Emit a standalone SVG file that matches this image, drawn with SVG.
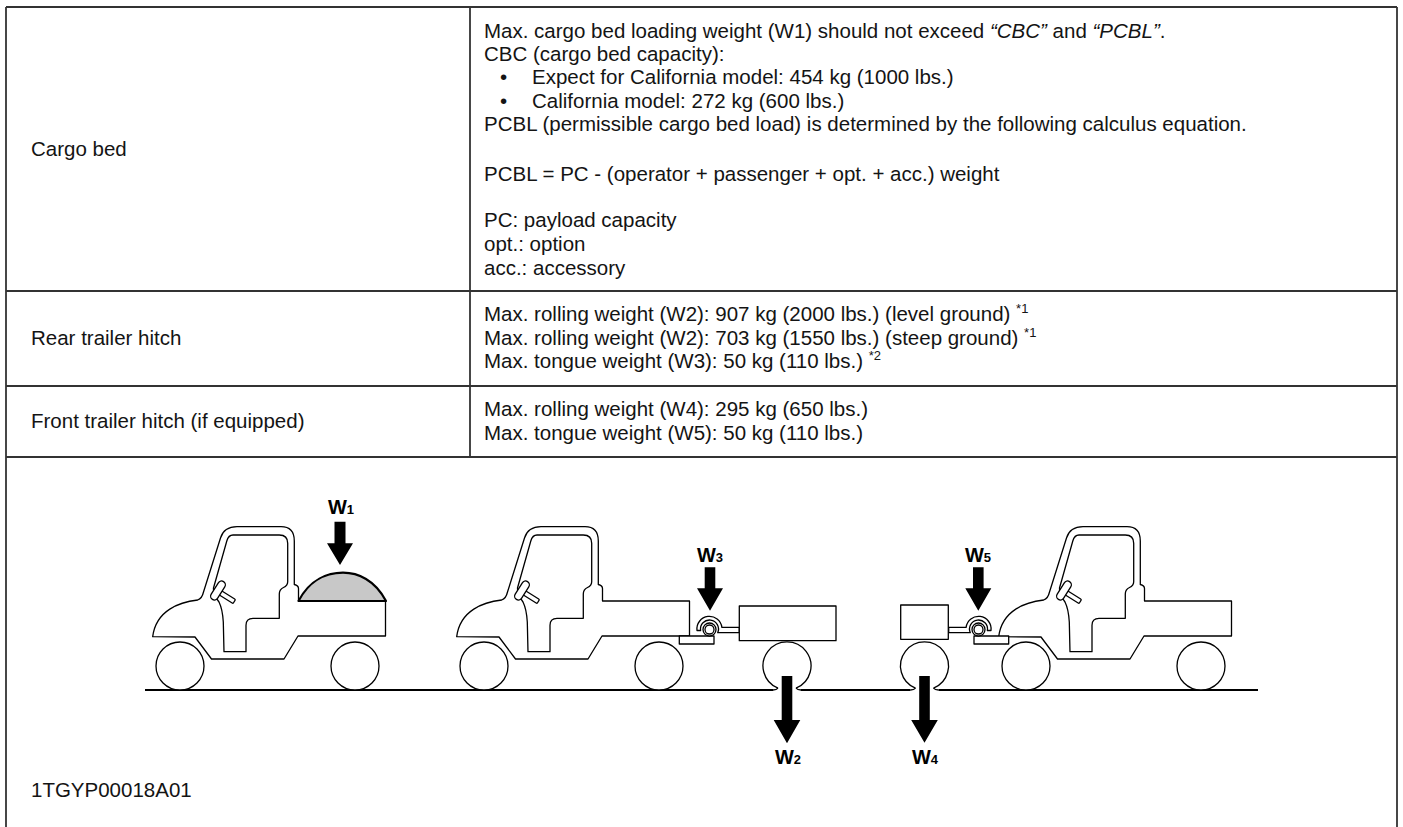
<svg xmlns="http://www.w3.org/2000/svg" xmlns:xlink="http://www.w3.org/1999/xlink" width="1403" height="827" viewBox="0 0 1403 827">
<style>
.t{font-family:"Liberation Sans",Arial,sans-serif;font-size:20.5px;fill:#141414}
.grid{stroke:#333;stroke-width:1.8;fill:none}
.ln{fill:#fff;stroke:#000;stroke-width:1.3;stroke-linejoin:round}
.no{fill:none;stroke:#000;stroke-width:1.3;stroke-linejoin:round}
.gnd{fill:none;stroke:#000;stroke-width:2}
.arw{fill:#000}
.wl{font-family:"Liberation Sans",Arial,sans-serif;font-weight:bold;font-size:20px;fill:#000}
.sub{font-size:13px}
.sup{font-size:13px}
</style>
<defs>
<g id="utv">
<path class="ln" d="M152.7,636.7 L195,637 L211.5,659 L284,659 L298,636 L385.5,636 L385.5,601 L298.5,601 L298.5,588.5 Q298.5,585.5 294.3,584.5 L294.3,541 Q294.3,526.7 281,526.7 L237,526.7 Q224,526.7 220.5,538 L203.5,592 Q202,598.5 197.7,600 C180,602 156,610 152.7,636.7 Z"/>
<path class="no" d="M233,535 L279.3,535 Q287.7,535 287.7,543.3 L287.7,581.7 Q287.7,585.5 283.5,587.5 Q279.3,589.5 279.3,594 L279.3,618.3 L253,618.3 Q246,618.3 246,625.3 L246,651.7 L224,651.7 L223.3,622 Q222.5,609 219,602 Q213,594 213.5,588 L226.8,541 Q228.5,535 233,535 Z"/>
<rect class="ln" x="0" y="-2.4" width="18" height="4.8" rx="1" transform="translate(219,592) rotate(32)"/>
<rect class="ln" x="-3.8" y="-10.5" width="7.6" height="21" rx="3.8" transform="translate(218,590.5) rotate(32)"/>
<circle class="ln" cx="180" cy="666" r="24"/>
<circle class="ln" cx="355" cy="666" r="24"/>
</g>
<g id="hitch">
<rect class="ln" x="679.3" y="636" width="34.7" height="8"/>
<path class="ln" d="M697,630.5 A12.5,12.5 0 0 1 721.9,627.3 L739.3,627.3 L739.3,632.7 L717.7,632.7 A9,9 0 1 0 700.6,630.5 Z"/>
<circle class="ln" cx="709.5" cy="629.5" r="6.5"/>
<circle class="no" cx="709.5" cy="629.5" r="4.5"/>
</g>
</defs>

<g id="table">
<path class="grid" d="M6,7 H1397 M6,7 V827 M1397,7 V827 M470,7 V457 M6,291 H1397 M6,386 H1397 M6,457 H1397"/>
</g>

<g id="row-cargo-bed">
<text class="t" x="31" y="156">Cargo bed</text>
<text class="t" x="484" y="37.7">Max. cargo bed loading weight (W1) should not exceed <tspan font-style="italic">“CBC”</tspan> and <tspan font-style="italic">“PCBL”</tspan>.</text>
<text class="t" x="484" y="61">CBC (cargo bed capacity):</text>
<text class="t" x="500" y="84.3">•</text>
<text class="t" x="532" y="84.3">Expect for California model: 454 kg (1000 lbs.)</text>
<text class="t" x="500" y="107.6">•</text>
<text class="t" x="532" y="107.6">California model: 272 kg (600 lbs.)</text>
<text class="t" x="484" y="131">PCBL (permissible cargo bed load) is determined by the following calculus equation.</text>
<text class="t" x="484" y="181">PCBL = PC - (operator + passenger + opt. + acc.) weight</text>
<text class="t" x="484" y="227">PC: payload capacity</text>
<text class="t" x="484" y="251">opt.: option</text>
<text class="t" x="484" y="275">acc.: accessory</text>
</g>

<g id="row-rear-hitch">
<text class="t" x="31" y="344.5">Rear trailer hitch</text>
<text class="t" x="484" y="321">Max. rolling weight (W2): 907 kg (2000 lbs.) (level ground) <tspan class="sup" dy="-8">*1</tspan></text>
<text class="t" x="484" y="344.5">Max. rolling weight (W2): 703 kg (1550 lbs.) (steep ground) <tspan class="sup" dy="-8">*1</tspan></text>
<text class="t" x="484" y="368">Max. tongue weight (W3): 50 kg (110 lbs.) <tspan class="sup" dy="-8">*2</tspan></text>
</g>

<g id="row-front-hitch">
<text class="t" x="31" y="428">Front trailer hitch (if equipped)</text>
<text class="t" x="484" y="416">Max. rolling weight (W4): 295 kg (650 lbs.)</text>
<text class="t" x="484" y="439.5">Max. tongue weight (W5): 50 kg (110 lbs.)</text>
</g>

<g id="ground">
<path class="gnd" d="M145,690 H773 M801,690 H910.5 M938.5,690 H1258"/>
</g>

<g id="vehicle-1">
<use xlink:href="#utv"/>
<path d="M298.5,601 C310,579 328,572.7 343,572.7 C358,572.7 375,580 386,601 Z" fill="#c8c8c8" stroke="#000" stroke-width="2.2" stroke-linejoin="round"/>
</g>

<g id="vehicle-2">
<use xlink:href="#utv" transform="translate(304,0)"/>
<use xlink:href="#hitch"/>
<rect class="ln" x="739.3" y="606" width="96.7" height="34.7"/>
<path class="ln" d="M778,688.2 A24,24 0 1 1 796,688.2"/>
<path class="no" d="M778,688.2 Q776.5,690 773,690 M796,688.2 Q797.5,690 801,690"/>
</g>

<g id="vehicle-3">
<use xlink:href="#utv" transform="translate(846,0)"/>
<use xlink:href="#hitch" transform="translate(1688,0) scale(-1,1)"/>
<rect class="ln" x="900.7" y="605" width="47.6" height="34.3"/>
<path class="ln" d="M915.5,688.2 A24,24 0 1 1 933.5,688.2"/>
<path class="no" d="M915.5,688.2 Q914,690 910.5,690 M933.5,688.2 Q935,690 938.5,690"/>
</g>

<g id="arrows">
<polygon class="arw" points="334.5,521.7 345.5,521.7 345.5,543.3 353,543.3 340,565 327,543.3 334.5,543.3"/>
<polygon class="arw" points="704.7,567.3 715.3,567.3 715.3,588.3 723,588.3 710,610.7 697,588.3 704.7,588.3"/>
<polygon class="arw" points="973,567.3 983.6,567.3 983.6,588.3 991.3,588.3 978.3,610.7 965.3,588.3 973,588.3"/>
<polygon class="arw" points="781.7,676 792.3,676 792.3,720 800.3,720 787,743.3 773.7,720 781.7,720"/>
<polygon class="arw" points="919.2,676 929.8,676 929.8,720 937.8,720 924.5,742.7 911.2,720 919.2,720"/>
</g>

<g id="labels">
<text class="wl" x="341" y="514" text-anchor="middle">W<tspan class="sub">1</tspan></text>
<text class="wl" x="710" y="562" text-anchor="middle">W<tspan class="sub">3</tspan></text>
<text class="wl" x="978" y="562" text-anchor="middle">W<tspan class="sub">5</tspan></text>
<text class="wl" x="788" y="764" text-anchor="middle">W<tspan class="sub">2</tspan></text>
<text class="wl" x="925" y="764" text-anchor="middle">W<tspan class="sub">4</tspan></text>
</g>

<g id="figure-code">
<text class="t" x="31" y="797">1TGYP00018A01</text>
</g>
</svg>
